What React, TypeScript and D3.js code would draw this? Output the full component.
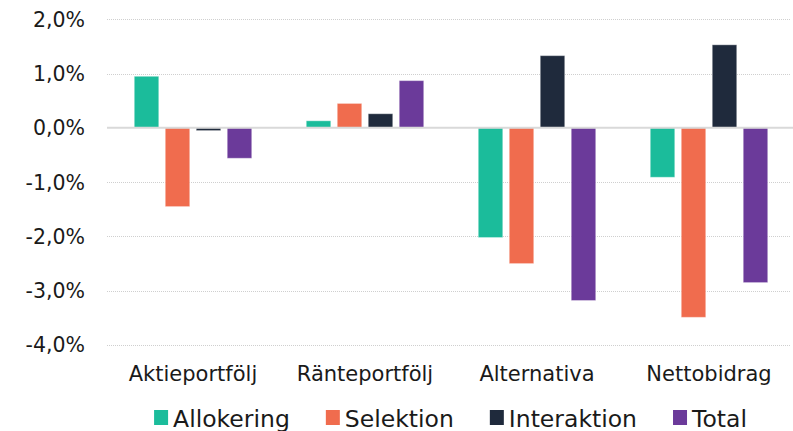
import React, { useEffect, useRef } from "react";
import * as d3 from "d3";

const categories = ["Aktieportfölj", "Ränteportfölj", "Alternativa", "Nettobidrag"];
const seriesNames = ["Allokering", "Selektion", "Interaktion", "Total"];
const seriesColors = ["#1BBC9B", "#F06C4E", "#1F2A3C", "#6B3A9A"];
const allokering = [0.95, 0.13, -2.02, -0.91];
const selektion = [-1.45, 0.45, -2.5, -3.49];
const interaktion = [-0.05, 0.26, 1.33, 1.53];
const total = [-0.56, 0.87, -3.18, -2.85];
const yTicks = [2, 1, 0, -1, -2, -3, -4];

const W = 793;
const H = 431;

export default function App() {
  const ref = useRef<SVGSVGElement>(null);

  useEffect(() => {
    const svg = d3.select(ref.current);
    svg.selectAll("*").remove();
    const font = "'DejaVu Sans', Verdana, sans-serif";
    const seriesData = [allokering, selektion, interaktion, total];

    const x0 = d3.scaleBand<string>().domain(categories).range([107, 795]).paddingInner(0).paddingOuter(0);
    const x1 = d3
      .scaleBand<string>()
      .domain(seriesNames)
      .range([0, x0.bandwidth()])
      .paddingInner(0.21)
      .paddingOuter(0.88);
    const y = d3.scaleLinear().domain([-4, 2]).range([345, 19.3]);

    // gridlines
    svg
      .append("g")
      .selectAll("line")
      .data(yTicks.filter((t) => t !== 0))
      .join("line")
      .attr("x1", 107)
      .attr("x2", 790)
      .attr("y1", (d) => Math.round(y(d)) + 0.5)
      .attr("y2", (d) => Math.round(y(d)) + 0.5)
      .attr("stroke", "#cfcfcf")
      .attr("stroke-width", 1)
      .attr("stroke-dasharray", "1,1");

    // tick labels
    svg
      .append("g")
      .selectAll("text")
      .data(yTicks)
      .join("text")
      .attr("x", 85)
      .attr("y", (d) => y(d))
      .attr("dy", "0.36em")
      .attr("text-anchor", "end")
      .attr("font-family", font)
      .attr("font-size", 20.5)
      .attr("fill", "#1a1a1a")
      .text((d) => d3.format(".1f")(d).replace(".", ",").replace("−", "-") + "%");

    // bars
    const g = svg.append("g");
    seriesNames.forEach((name, si) => {
      g.append("g")
        .selectAll("rect")
        .data(seriesData[si].map((v, ci) => ({ v, c: categories[ci] })))
        .join("rect")
        .attr("x", (d) => (x0(d.c) as number) + (x1(name) as number))
        .attr("width", x1.bandwidth())
        .attr("y", (d) => y(Math.max(0, d.v)))
        .attr("height", (d) => Math.abs(y(d.v) - y(0)))
        .attr("fill", seriesColors[si])
        .attr("stroke", "rgba(255,255,255,0.35)")
        .attr("stroke-width", 1);
    });

    // zero line
    svg
      .append("line")
      .attr("x1", 107)
      .attr("x2", 793)
      .attr("y1", y(0))
      .attr("y2", y(0))
      .attr("stroke", "#d9d9d9")
      .attr("stroke-width", 2);

    // category labels
    svg
      .append("g")
      .selectAll("text")
      .data(categories)
      .join("text")
      .attr("x", (d) => (x0(d) as number) + x0.bandwidth() / 2)
      .attr("y", 381)
      .attr("text-anchor", "middle")
      .attr("font-family", font)
      .attr("font-size", 21)
      .attr("fill", "#1a1a1a")
      .text((d) => d);

    // legend
    const lg = svg.append("g");
    const items = seriesNames.map((name, i) => {
      const it = lg.append("g");
      it.append("rect")
        .attr("x", 0)
        .attr("y", 410)
        .attr("width", 14)
        .attr("height", 15)
        .attr("fill", seriesColors[i]);
      const t = it
        .append("text")
        .attr("x", 19)
        .attr("y", 426.5)
        .attr("font-family", font)
        .attr("font-size", 23.5)
        .attr("fill", "#1a1a1a")
        .text(name);
      const w = (t.node() as SVGTextElement).getComputedTextLength();
      return { it, w: 19 + w };
    });
    const gap = 36;
    const totalW = d3.sum(items, (d) => d.w) + gap * (items.length - 1);
    let cx = 450.5 - totalW / 2;
    items.forEach((d) => {
      d.it.attr("transform", `translate(${cx},0)`);
      cx += d.w + gap;
    });
  }, []);

  return (
    <svg
      ref={ref}
      width={W}
      height={H}
      style={{ position: "absolute", left: 0, top: 0, background: "#fff", display: "block" }}
    />
  );
}
